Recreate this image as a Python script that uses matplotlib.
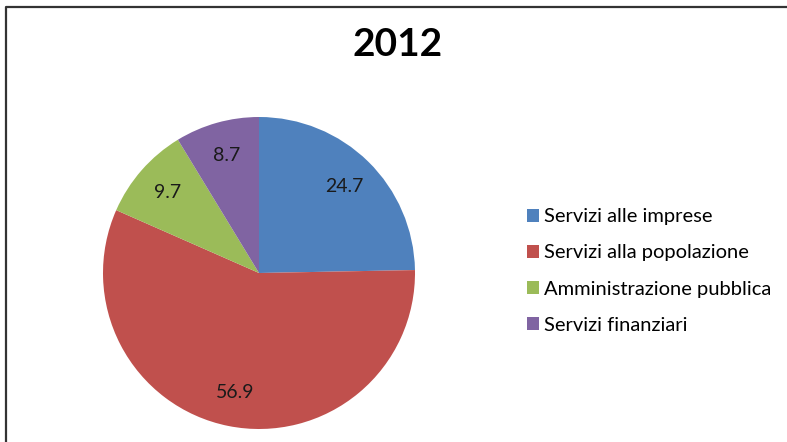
import matplotlib.pyplot as plt
from matplotlib.lines import Line2D

plt.rcParams['font.family'] = ['Lato', 'DejaVu Sans']

# Data
title = '2012'
categories = ['Servizi alle imprese', 'Servizi alla popolazione',
              'Amministrazione pubblica', 'Servizi finanziari']
values = [24.7, 56.9, 9.7, 8.7]
colors = ['#4F81BD', '#C0504D', '#9BBB59', '#8064A2']

W, H = 787, 442
fig = plt.figure(figsize=(W / 100, H / 100), dpi=100)
fig.patch.set_facecolor('white')

# Pie axes: centre ~(259, 273) px, radius ~156 px
cx, cy, r = 259, 273, 156
ax = fig.add_axes([(cx - r) / W, (H - cy - r) / H, 2 * r / W, 2 * r / H])
wedges, texts = ax.pie(values, colors=colors, startangle=90, counterclock=False,
                       labels=[f'{v:.1f}' for v in values], labeldistance=0.78,
                       textprops=dict(fontsize=14, color='#1a1a1a', ha='center', va='center'),
                       wedgeprops=dict(linewidth=0))
ax.set_xlim(-1, 1)
ax.set_ylim(-1, 1)
ax.set_aspect('equal')

# Title
fig.text(398 / W, 1 - 45 / H, title, ha='center', va='center',
         fontsize=28, fontweight='bold', color='black')

# Legend
fig.legend(wedges, categories, loc='center left',
           bbox_to_anchor=(527 / W, 1 - 271 / H), frameon=False,
           fontsize=14.5, handlelength=0.6, handleheight=0.6,
           handletextpad=0.25, labelspacing=0.95, borderpad=0, borderaxespad=0)

# Frame around the chart, cut off at right and bottom
fig.add_artist(Line2D([6 / W, 6 / W, 1.01], [-0.01, 1 - 7 / H, 1 - 7 / H],
                      transform=fig.transFigure, color='#333333', linewidth=1.6))

fig.savefig('out.png', dpi=100)
